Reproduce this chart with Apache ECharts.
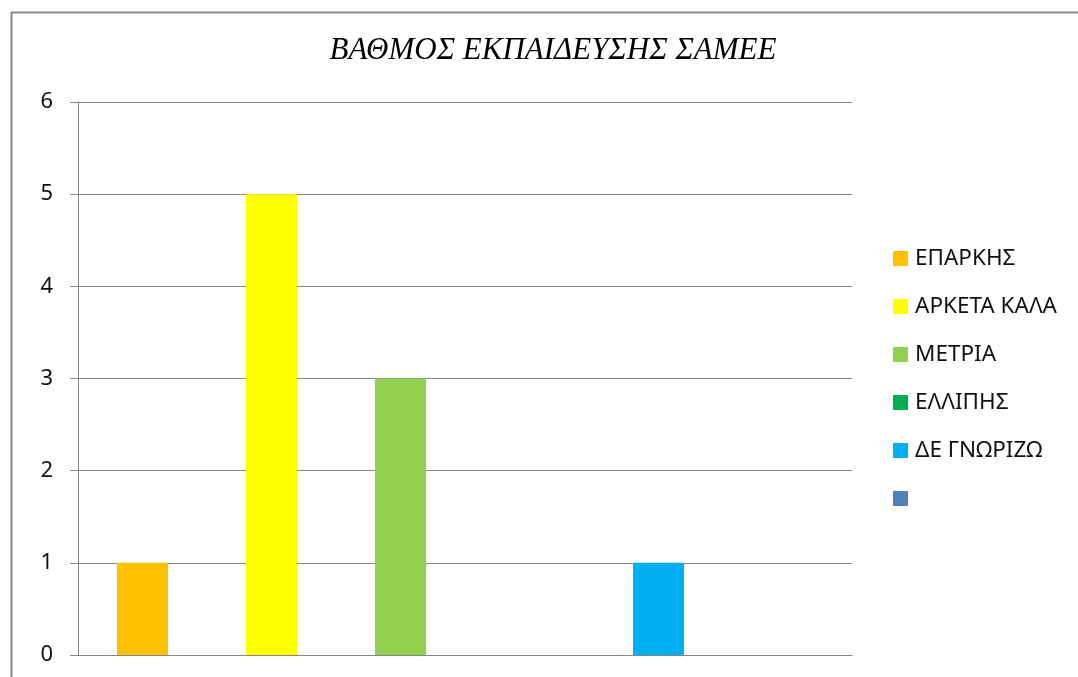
<!DOCTYPE html>
<html>
<head>
<meta charset="utf-8">
<script src="https://cdn.jsdelivr.net/npm/echarts@6/dist/echarts.min.js"></script>
<style>html,body{margin:0;padding:0;background:#fff}#c{width:1078px;height:677px}</style>
</head>
<body>
<div id="c"></div>
<script>
const title = 'ΒΑΘΜΟΣ ΕΚΠΑΙΔΕΥΣΗΣ ΣΑΜΕΕ';
const categories = ['ΕΠΑΡΚΗΣ', 'ΑΡΚΕΤΑ ΚΑΛΑ', 'ΜΕΤΡΙΑ', 'ΕΛΛΙΠΗΣ', 'ΔΕ ΓΝΩΡΙΖΩ', ' '];
const values = [1, 5, 3, 0, 1, 0];
const colors = ['#FFC000', '#FFFF00', '#92D050', '#00B050', '#00B0F0', '#4F81BD'];
const yTicks = [0, 1, 2, 3, 4, 5, 6];

const series = categories.map((name, i) => ({
  name: name,
  type: 'bar',
  stack: 'all',
  barWidth: 51,
  itemStyle: { color: colors[i] },
  data: categories.map((c, j) => (j === i ? values[i] : null))
}));

const chart = echarts.init(document.getElementById('c'));
chart.setOption({
  animation: false,
  title: {
    text: title,
    left: 548, textAlign: 'center', top: 30,
    textStyle: { fontFamily: 'Liberation Serif', fontStyle: 'italic', fontWeight: 'normal', fontSize: 31, color: '#000' }
  },
  legend: {
    orient: 'vertical', left: 888, top: 242,
    icon: 'rect', itemWidth: 15, itemHeight: 15, itemGap: 25,
    data: categories,
    textStyle: { fontFamily: 'Noto Sans', fontSize: 22.5, color: '#111', lineHeight: 20, padding: [0, 0, 0, 2] }
  },
  grid: { left: 78, right: 226, top: 102, bottom: 22 },
  xAxis: {
    type: 'category', data: categories,
    axisLine: { lineStyle: { color: '#868686', width: 1 } },
    axisTick: { show: false }, axisLabel: { show: false }
  },
  yAxis: {
    type: 'value', min: yTicks[0], max: yTicks[yTicks.length - 1], interval: 1,
    axisLine: { show: true, lineStyle: { color: '#868686' } },
    axisTick: { show: true, length: 8, lineStyle: { color: '#868686' } },
    axisLabel: { margin: 25, fontFamily: 'Noto Sans', fontSize: 22, color: '#111' },
    splitLine: { lineStyle: { color: '#868686' } }
  },
  graphic: [{
    type: 'rect', left: 9, top: 10,
    shape: { x: 0, y: 0, width: 1100, height: 700 },
    style: { fill: 'none', stroke: '#8a8a8a', lineWidth: 2 }
  }],
  series: series
});
</script>
</body>
</html>
